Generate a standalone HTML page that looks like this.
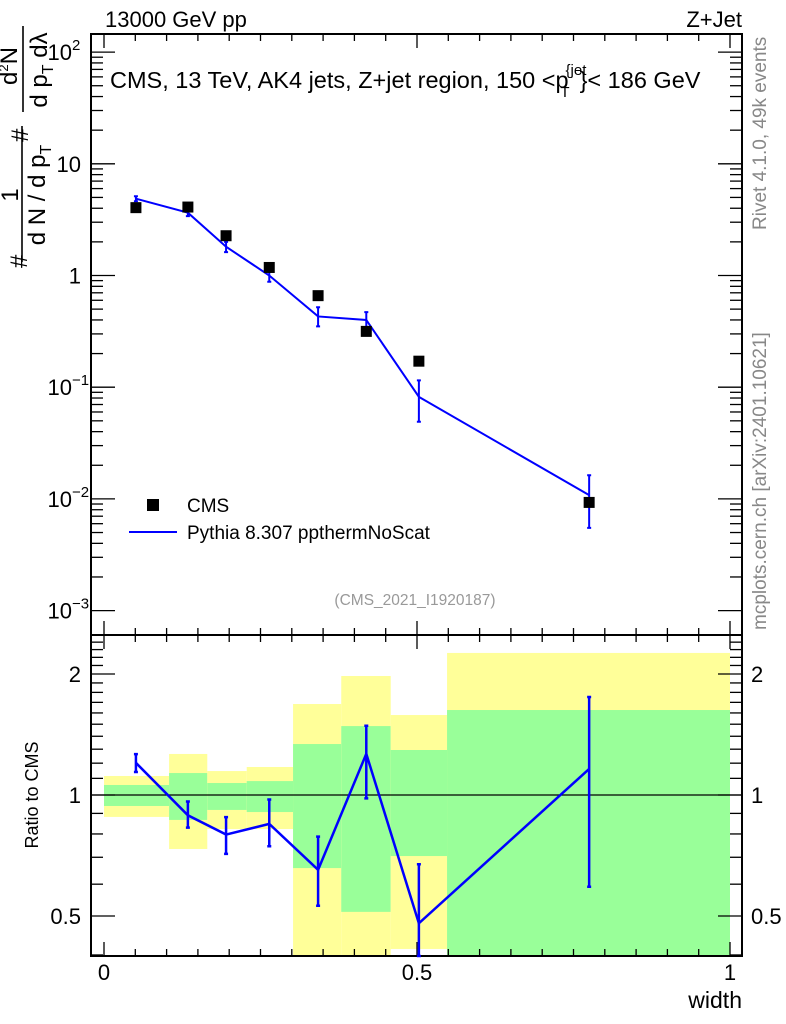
<!DOCTYPE html>
<html><head><meta charset="utf-8"><style>
html,body{margin:0;padding:0;background:#fff}
svg{display:block;font-family:"Liberation Sans",sans-serif}
</style></head><body>
<svg id="chart" width="786" height="1024" viewBox="0 0 786 1024">
<g id="bands"></g>
<g id="axes"></g>
<g id="marks"></g>
<text x="105" y="27" font-size="22">13000 GeV pp</text>
<text x="742" y="27" font-size="22" text-anchor="end">Z+Jet</text>
<text x="110" y="88" font-size="23.5">CMS, 13 TeV, AK4 jets, Z+jet region, 150 &lt;p<tspan font-size="15" dy="-13" dx="-3">{jet</tspan><tspan font-size="15" dx="-26" dy="22">T</tspan><tspan dy="-9" dx="10">}&lt; 186 GeV</tspan></text>
<text x="415" y="605" font-size="15.5" fill="#999" text-anchor="middle">(CMS_2021_I1920187)</text>
<text transform="translate(766,230) rotate(-90)" font-size="19" fill="#888">Rivet 4.1.0,  49k events</text>
<text transform="translate(766,630) rotate(-90)" font-size="19" fill="#888">mcplots.cern.ch [arXiv:2401.10621]</text>
<g font-size="24">
<text transform="translate(27,268) rotate(-90)">#</text>
<text transform="translate(18,195) rotate(-90)" text-anchor="middle">1</text>
<line x1="22" y1="126" x2="22" y2="262" stroke="#000" stroke-width="1.6"/>
<text transform="translate(45,195) rotate(-90)" text-anchor="middle">d N / d p<tspan font-size="16" dy="6">T</tspan></text>
<text transform="translate(28,142) rotate(-90)">#</text>
<text transform="translate(17,66) rotate(-90)" text-anchor="middle">d<tspan font-size="13" dy="-9">2</tspan><tspan dy="9">N</tspan></text>
<line x1="23" y1="26" x2="23" y2="112" stroke="#000" stroke-width="1.6"/>
<text transform="translate(47,70) rotate(-90)" text-anchor="middle">d p<tspan font-size="16" dy="6">T</tspan><tspan dy="-6"> dλ</tspan></text>
</g>
<text transform="translate(38,795) rotate(-90)" font-size="18" text-anchor="middle">Ratio to CMS</text>
<text x="742" y="1008" font-size="23" text-anchor="end">width</text>
<g>
<rect x="147" y="499" width="12" height="12" fill="#000"/>
<text x="187" y="512" font-size="19">CMS</text>
<line x1="129" y1="532" x2="177" y2="532" stroke="#0000ff" stroke-width="2"/>
<text x="187" y="539" font-size="19">Pythia 8.307 ppthermNoScat</text>
</g>
</svg>
<script>
const xVals=[0.051,0.134,0.195,0.264,0.342,0.419,0.503,0.775];
const binEdges=[0,0.104,0.165,0.228,0.302,0.379,0.458,0.548,1];
const cmsVals=[4.05,4.1,2.27,1.18,0.66,0.316,0.171,0.0093];
const mcVals=[4.87,3.65,1.81,1.0,0.43,0.40,0.082,0.0108];
const mcLo=[4.62,3.4,1.62,0.88,0.35,0.31,0.049,0.0055];
const mcHi=[5.12,3.95,2.0,1.15,0.52,0.47,0.115,0.0163];
const yelHi=[1.115,1.265,1.147,1.174,1.684,1.977,1.581,2.256];
const yelLo=[0.882,0.734,0.823,0.823,0.3,0.3,0.414,0.3];
const grnHi=[1.059,1.134,1.071,1.083,1.339,1.484,1.294,1.627];
const grnLo=[0.939,0.867,0.918,0.907,0.658,0.512,0.705,0.3];
const mainTicks=[["10","2"],["10",""],["1",""],["10","−1"],["10","−2"],["10","−3"]];
const ratioTicks=[["2",2],["1",1],["0.5",0.5]];
const xTicks=[["0",0],["0.5",0.5],["1",1]];

const NS="http://www.w3.org/2000/svg";
const L=91,R=742,T=34,MB=635,RB=956;
const X=v=>104+626*v;
const Y=v=>275.5-111.7*Math.log10(v);
const RY=r=>795-402*Math.log10(r);
const RYc=r=>Math.max(MB,Math.min(RB,RY(r)));
function mk(p,tag,a){const e=document.createElementNS(NS,tag);for(const k in a)e.setAttribute(k,a[k]);p.appendChild(e);return e;}
const ax=document.getElementById('axes'),mk_=document.getElementById('marks'),bd=document.getElementById('bands');

for(let i=0;i<xVals.length;i++){
  const x0=X(binEdges[i]),x1=X(binEdges[i+1]);
  let r=mk(bd,'rect',{x:x0,y:RYc(yelHi[i]),width:x1-x0,height:RYc(yelLo[i])-RYc(yelHi[i]),fill:'#ffff99'});
  
  
  let g=mk(bd,'rect',{x:x0,y:RYc(grnHi[i]),width:x1-x0,height:RYc(grnLo[i])-RYc(grnHi[i]),fill:'#99ff99'});
  
  
}
let one=mk(ax,'line',{x1:L,x2:R,y1:RY(1),y2:RY(1),stroke:'#000','stroke-width':1.2});



for(const [t,b] of [[T,MB],[MB,RB]]){
  let f=mk(ax,'rect',{x:L,y:t,width:R-L,height:b-t,fill:'none',stroke:'#000','stroke-width':2});
  
  
}
for(let k=0;k<=20;k++){const v=k*0.05,x=X(v),len=(k%10==0)?14:7;
  for(const [yb,dir] of [[T,1],[MB,-1],[MB,1],[RB,-1]]) mk(ax,'line',{x1:x,x2:x,y1:yb,y2:yb+dir*len,stroke:'#000','stroke-width':1.3});
}
xTicks.forEach(([s,v])=>{let t=mk(ax,'text',{x:X(v),y:980,'font-size':22,'text-anchor':'middle'});t.textContent=s;
  
  });
for(let d=-3;d<=2;d++){for(let m=1;m<10;m++){const v=m*Math.pow(10,d),y=Y(v);if(y<T||y>MB)continue;const len=m==1?24:12;
  mk(ax,'line',{x1:L,x2:L+len,y1:y,y2:y,stroke:'#000','stroke-width':1.3});
  mk(ax,'line',{x1:R,x2:R-len,y1:y,y2:y,stroke:'#000','stroke-width':1.3});}}
mainTicks.forEach(([b,e],i)=>{const y=Y(Math.pow(10,2-i))+8;
  const hasExp=e!=="";
  let t=mk(ax,'text',{x:hasExp?72:81,y:y,'font-size':22,'text-anchor':'end'});
  t.textContent=b;
  
  
  if(hasExp){let s=mk(ax,'text',{x:72,y:y-10,'font-size':15});s.textContent=e;}});
for(let r=0.4;r<=2.5;r+=0.1){const y=RY(r);if(y<MB||y>RB)continue;const maj=[0.5,1,2].some(q=>Math.abs(q-r)<1e-6);const len=maj?24:12;
  mk(ax,'line',{x1:L,x2:L+len,y1:y,y2:y,stroke:'#000','stroke-width':1.3});
  mk(ax,'line',{x1:R,x2:R-len,y1:y,y2:y,stroke:'#000','stroke-width':1.3});}
ratioTicks.forEach(([s,v])=>{
  let t=mk(ax,'text',{x:81,y:RY(v)+8,'font-size':22,'text-anchor':'end'});t.textContent=s;
  
  
  let t2=mk(ax,'text',{x:751,y:RY(v)+8,'font-size':22});t2.textContent=s;
  
  });

let pts=xVals.map((v,i)=>X(v)+','+Y(mcVals[i])).join(' ');
let pl=mk(mk_,'polyline',{points:pts,fill:'none',stroke:'#0000ff','stroke-width':2});


xVals.forEach((v,i)=>{const x=X(v);
  let e=mk(mk_,'path',{d:`M${x},${Y(mcLo[i])}V${Y(mcHi[i])}M${x-2},${Y(mcLo[i])}h4M${x-2},${Y(mcHi[i])}h4`,stroke:'#0000ff','stroke-width':2,fill:'none'});
  
  
  let r=mk(mk_,'rect',{x:x-5.5,y:Y(cmsVals[i])-5.5,width:11,height:11,fill:'#000'});
  
  
});
let rp=xVals.map((v,i)=>X(v)+','+RY(mcVals[i]/cmsVals[i])).join(' ');
let rl=mk(mk_,'polyline',{points:rp,fill:'none',stroke:'#0000ff','stroke-width':2.5});


xVals.forEach((v,i)=>{const x=X(v),lo=RYc(mcLo[i]/cmsVals[i]),hi=RYc(mcHi[i]/cmsVals[i]);
  let e=mk(mk_,'path',{d:`M${x},${lo}V${hi}M${x-2},${lo}h4M${x-2},${hi}h4`,stroke:'#0000ff','stroke-width':2.5,fill:'none'});
  
  
});
</script>
</body></html>
